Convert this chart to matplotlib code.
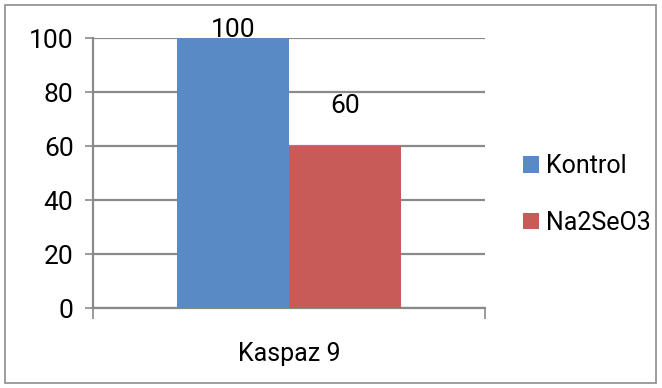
import matplotlib.pyplot as plt
from matplotlib.patches import Rectangle

plt.rcParams['font.family'] = ['Roboto', 'DejaVu Sans']

category = "Kaspaz 9"
series = ["Kontrol", "Na2SeO3"]
values = [100, 60]
colors = ["#5A8AC6", "#C85A57"]
label_lift = [3, 15]  # how far above the bar top each value label sits

fig = plt.figure(figsize=(6.62, 3.88), dpi=100)
ax = fig.add_axes([93 / 662, 80 / 388, 392 / 662, 270 / 388])

# outer frame around the whole chart
fig.patches.append(Rectangle((5 / 662, 5 / 388), 651 / 662, 378 / 388,
                             transform=fig.transFigure, fill=False,
                             edgecolor="#8C8C8C", linewidth=1.2))

bar_w = 112 / 392
xs = [0.5 - bar_w / 2, 0.5 + bar_w / 2]
for x, v, c, name in zip(xs, values, colors, series):
    ax.bar(x, v, width=bar_w, color=c, label=name, zorder=3)
for x, v, lift in zip(xs, values, label_lift):
    ax.text(x, v + lift, str(v), ha="center", va="center", fontsize=19, zorder=4)

ax.set_xlim(0, 1)
ax.set_ylim(0, 100)
ax.set_yticks(range(0, 101, 20))
ax.yaxis.grid(True, color="#8A8A8A", linewidth=1.6, zorder=0)
ax.tick_params(axis="y", labelsize=19, length=6, width=1.2, color="#8A8A8A", pad=8)
ax.set_xticks([0, 1])
ax.set_xticklabels(["", ""])
ax.tick_params(axis="x", length=8, width=1.2, color="#8A8A8A")
ax.text(0.5, -0.17, category, transform=ax.transAxes, ha="center", va="center", fontsize=18)

for side in ["top", "right"]:
    ax.spines[side].set_visible(False)
for side in ["left", "bottom"]:
    ax.spines[side].set_color("#8A8A8A")
    ax.spines[side].set_linewidth(1.6)

ax.legend(loc="center left", bbox_to_anchor=(1.04, 0.42), frameon=False,
          fontsize=18, handlelength=0.65, handleheight=0.65,
          handletextpad=0.25, labelspacing=1.3)

fig.savefig("out.png", dpi=100)
